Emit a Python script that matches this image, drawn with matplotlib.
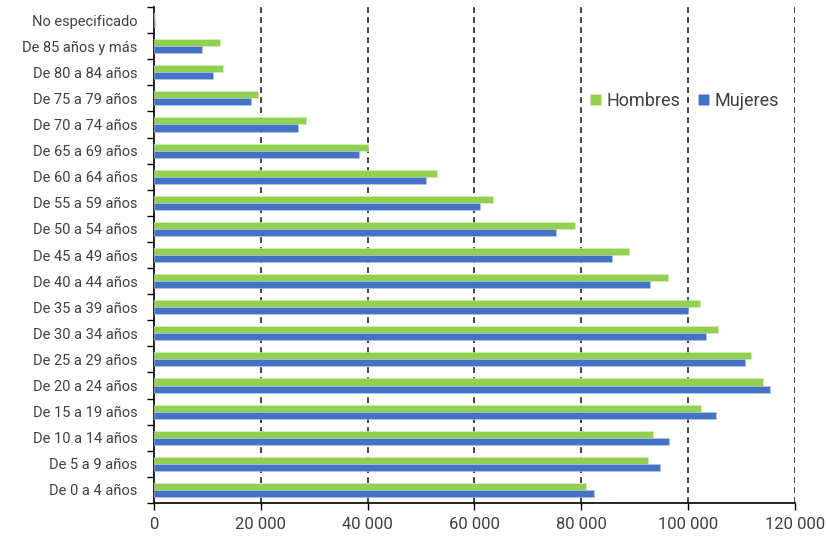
"""
Poblacion por grupo de edad y sexo, barras horizontales.
"""

import matplotlib
matplotlib.use("Agg")
import matplotlib.pyplot as plt
import numpy as np
from matplotlib.ticker import FixedLocator, FuncFormatter

plt.rcParams["font.family"] = ["Roboto", "DejaVu Sans"]

grupos = [
    "De 0 a 4 años", "De 5 a 9 años", "De 10 a 14 años", "De 15 a 19 años",
    "De 20 a 24 años", "De 25 a 29 años", "De 30 a 34 años", "De 35 a 39 años",
    "De 40 a 44 años", "De 45 a 49 años", "De 50 a 54 años", "De 55 a 59 años",
    "De 60 a 64 años", "De 65 a 69 años", "De 70 a 74 años", "De 75 a 79 años",
    "De 80 a 84 años", "De 85 años y más", "No especificado",
]
hombres = [80800, 92500, 93400, 102400, 114000, 111700, 105600, 102300,
           96200, 88900, 78800, 63500, 53000, 40000, 28400, 19500,
           12900, 12400, 150]
mujeres = [82400, 94700, 96400, 105200, 115400, 110600, 103300, 100000,
           92900, 85800, 75300, 61000, 50900, 38300, 27000, 18200,
           11000, 9000, 150]
ticks_x = [0, 20000, 40000, 60000, 80000, 100000, 120000]

verde = "#92D050"
azul = "#4472C4"
gris = "#404040"

fig = plt.figure(figsize=(8.26, 5.4), dpi=100)
ax = fig.add_axes([0.1864, 0.0685, 0.7761, 0.9185])

y = np.arange(len(grupos))
alto = 0.27
ax.barh(y + alto / 2, hombres, height=alto, color=verde, label="Hombres",
        edgecolor="#d8efc0", linewidth=0.4, zorder=3)
ax.barh(y - alto / 2, mujeres, height=alto, color=azul, label="Mujeres",
        edgecolor="#b8c8ea", linewidth=0.4, zorder=3)

ax.set_xlim(0, 120000)
ax.set_ylim(-0.5, len(grupos) - 0.5)

# eje x
ax.set_xticks(ticks_x)
ax.xaxis.set_major_formatter(FuncFormatter(lambda v, p: f"{int(v):,}".replace(",", " ")))
ax.tick_params(axis="x", direction="out", length=5, width=1, colors="black",
               labelcolor=gris, labelsize=12, pad=5)
for v in ticks_x[1:]:
    ax.axvline(v, color="#222222", linewidth=1.2, linestyle=(0, (3.5, 2.5)), zorder=1)

# eje y: marcas en los limites, etiquetas en el centro
ax.yaxis.set_major_locator(FixedLocator(np.arange(-0.5, len(grupos), 1.0)))
ax.yaxis.set_major_formatter(FuncFormatter(lambda v, p: ""))
ax.yaxis.set_minor_locator(FixedLocator(y))
ax.set_yticklabels(grupos, minor=True)
ax.tick_params(axis="y", which="major", direction="out", length=5, width=1)
ax.tick_params(axis="y", which="minor", length=0, pad=12, labelsize=10.5, labelcolor=gris)

for lado in ["top", "right"]:
    ax.spines[lado].set_visible(False)
for lado in ["left", "bottom"]:
    ax.spines[lado].set_color("black")
    ax.spines[lado].set_linewidth(1.2)

ax.legend(loc="upper left", bbox_to_anchor=(0.655, 0.862), ncol=2, frameon=False,
          fontsize=13, handlelength=0.6, handleheight=0.6, handletextpad=0.3,
          columnspacing=1.0, labelcolor=gris)

fig.savefig("out.png", dpi=100)
